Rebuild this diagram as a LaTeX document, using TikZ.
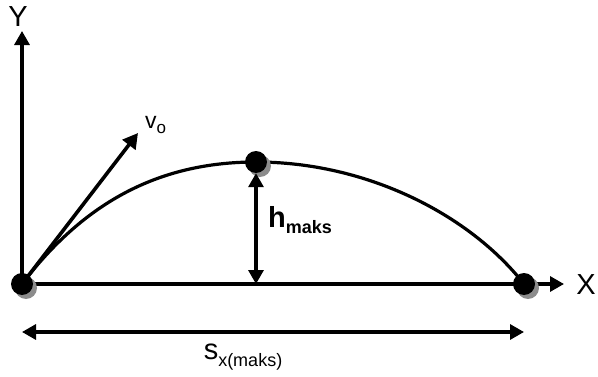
\documentclass[tikz,border=0pt]{standalone}
\usepackage{fontspec}
\setmainfont{Liberation Sans}
\usetikzlibrary{arrows.meta,shadows}
\newcommand{\lowsub}[2][18]{\raisebox{-0.22em}{\fontsize{#1}{#1}\selectfont #2}}
\tikzset{
  ball/.style  = {circle, fill=black, minimum size=22pt, inner sep=0,
                  drop shadow={shadow xshift=4pt, shadow yshift=-4pt, fill=black!45, opacity=1}},
  axis/.style  = {line width=3.2pt, -{Triangle[length=14pt,width=15pt]}},
  dim/.style   = {line width=3.2pt, {Triangle[length=14pt,width=15pt]}-{Triangle[length=14pt,width=15pt]}},
  path/.style  = {line width=3.2pt},
  et/.style    = {font=\fontsize{29}{32}\selectfont, inner sep=0}
}
\begin{document}
\begin{tikzpicture}[x=1pt,y=1pt]
  \useasboundingbox (0,0) rectangle (598,376);

  \coordinate (o)  at (22,92);
  \coordinate (tp) at (256,214);
  \coordinate (r)  at (524,92);
  \coordinate (yt) at (22,345);
  \coordinate (xt) at (564,92);
  \coordinate (vt) at (138,243);
  \coordinate (sl) at (22,44);
  \coordinate (sr) at (524,44);

  % axes and path
  \draw[axis] (o)--(yt);
  \draw[axis] (o)--(xt);
  \draw[path] (o) .. controls (82,171) and (156,214) .. (tp)
                  .. controls (366,214) and (469,162) .. (r);
  \draw[line width=3.6pt, -{Triangle[length=15pt,width=16pt]}] (o)--(vt);

  % balls
  \node[ball] (O) at (o)  {};
  \node[ball] (T) at (tp) {};
  \node[ball] (R) at (r)  {};

  \draw[dim] (T.south)--(T.south |- o);
  \draw[dim] (sl)--(sr);

  % labels
  \node[et] (ly) at (18,359) {Y};
  \node[et] (lx) at (586,91) {X};
  \node[et, anchor=south west, font=\fontsize{23}{26}\selectfont] (lv) at (145,242) {v\lowsub[17]{o}};
  \node[et, anchor=west, font=\fontsize{29}{32}\selectfont\bfseries] (lh) at (268,156) {h\lowsub{maks}};
  \node[et] (ls) at (243,19) {s\lowsub{x(maks)}};
\end{tikzpicture}
\end{document}
